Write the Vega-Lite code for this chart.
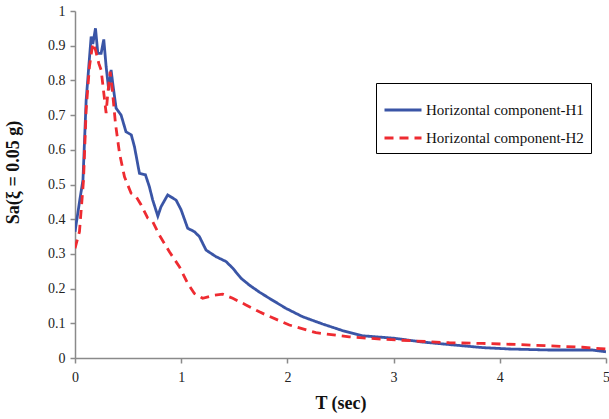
{
  "$schema": "https://vega.github.io/schema/vega-lite/v6.json",
  "width": 531,
  "height": 347,
  "autosize": {"type": "none"},
  "padding": {"left": 75, "top": 11, "right": 3, "bottom": 61},
  "background": "white",
  "config": {
    "view": {"stroke": null},
    "font": "Liberation Serif",
    "axis": {
      "grid": false,
      "labelFlush": false,
      "labelOverlap": false,
      "domainColor": "#8a8a8a",
      "domainWidth": 1.5,
      "tickColor": "#8a8a8a",
      "tickWidth": 1.5,
      "tickSize": 5,
      "labelFont": "Liberation Serif",
      "labelFontSize": 14,
      "labelColor": "#222222",
      "titleFont": "Liberation Serif",
      "titleFontSize": 18,
      "titleFontWeight": "bold",
      "titleColor": "#111111"
    }
  },
  "data": {
    "values": [
      {"series": "Horizontal component-H1", "T": 0, "Sa": 0.364},
      {"series": "Horizontal component-H1", "T": 0.05, "Sa": 0.465},
      {"series": "Horizontal component-H1", "T": 0.075, "Sa": 0.513},
      {"series": "Horizontal component-H1", "T": 0.105, "Sa": 0.743},
      {"series": "Horizontal component-H1", "T": 0.135, "Sa": 0.86},
      {"series": "Horizontal component-H1", "T": 0.152, "Sa": 0.926},
      {"series": "Horizontal component-H1", "T": 0.168, "Sa": 0.905},
      {"series": "Horizontal component-H1", "T": 0.193, "Sa": 0.95},
      {"series": "Horizontal component-H1", "T": 0.215, "Sa": 0.878},
      {"series": "Horizontal component-H1", "T": 0.246, "Sa": 0.878},
      {"series": "Horizontal component-H1", "T": 0.271, "Sa": 0.918},
      {"series": "Horizontal component-H1", "T": 0.293, "Sa": 0.84},
      {"series": "Horizontal component-H1", "T": 0.318, "Sa": 0.772},
      {"series": "Horizontal component-H1", "T": 0.34, "Sa": 0.83},
      {"series": "Horizontal component-H1", "T": 0.356, "Sa": 0.79},
      {"series": "Horizontal component-H1", "T": 0.387, "Sa": 0.72},
      {"series": "Horizontal component-H1", "T": 0.434, "Sa": 0.7},
      {"series": "Horizontal component-H1", "T": 0.48, "Sa": 0.652},
      {"series": "Horizontal component-H1", "T": 0.53, "Sa": 0.643},
      {"series": "Horizontal component-H1", "T": 0.56, "Sa": 0.609},
      {"series": "Horizontal component-H1", "T": 0.607, "Sa": 0.532},
      {"series": "Horizontal component-H1", "T": 0.663, "Sa": 0.528},
      {"series": "Horizontal component-H1", "T": 0.7, "Sa": 0.494},
      {"series": "Horizontal component-H1", "T": 0.732, "Sa": 0.455},
      {"series": "Horizontal component-H1", "T": 0.78, "Sa": 0.409},
      {"series": "Horizontal component-H1", "T": 0.81, "Sa": 0.436},
      {"series": "Horizontal component-H1", "T": 0.873, "Sa": 0.47},
      {"series": "Horizontal component-H1", "T": 0.952, "Sa": 0.455},
      {"series": "Horizontal component-H1", "T": 0.999, "Sa": 0.427},
      {"series": "Horizontal component-H1", "T": 1.061, "Sa": 0.374},
      {"series": "Horizontal component-H1", "T": 1.124, "Sa": 0.364},
      {"series": "Horizontal component-H1", "T": 1.171, "Sa": 0.35},
      {"series": "Horizontal component-H1", "T": 1.234, "Sa": 0.311},
      {"series": "Horizontal component-H1", "T": 1.328, "Sa": 0.292},
      {"series": "Horizontal component-H1", "T": 1.422, "Sa": 0.278},
      {"series": "Horizontal component-H1", "T": 1.485, "Sa": 0.259},
      {"series": "Horizontal component-H1", "T": 1.563, "Sa": 0.23},
      {"series": "Horizontal component-H1", "T": 1.642, "Sa": 0.21},
      {"series": "Horizontal component-H1", "T": 1.736, "Sa": 0.19},
      {"series": "Horizontal component-H1", "T": 1.83, "Sa": 0.172},
      {"series": "Horizontal component-H1", "T": 1.987, "Sa": 0.143},
      {"series": "Horizontal component-H1", "T": 2.143, "Sa": 0.119},
      {"series": "Horizontal component-H1", "T": 2.331, "Sa": 0.098},
      {"series": "Horizontal component-H1", "T": 2.519, "Sa": 0.079},
      {"series": "Horizontal component-H1", "T": 2.707, "Sa": 0.064},
      {"series": "Horizontal component-H1", "T": 3.006, "Sa": 0.057},
      {"series": "Horizontal component-H1", "T": 3.272, "Sa": 0.046},
      {"series": "Horizontal component-H1", "T": 3.586, "Sa": 0.037},
      {"series": "Horizontal component-H1", "T": 3.836, "Sa": 0.03},
      {"series": "Horizontal component-H1", "T": 4.087, "Sa": 0.026},
      {"series": "Horizontal component-H1", "T": 4.464, "Sa": 0.023},
      {"series": "Horizontal component-H1", "T": 4.87, "Sa": 0.023},
      {"series": "Horizontal component-H1", "T": 5.0, "Sa": 0.018},
      {"series": "Horizontal component-H2", "T": 0, "Sa": 0.316},
      {"series": "Horizontal component-H2", "T": 0.042, "Sa": 0.364},
      {"series": "Horizontal component-H2", "T": 0.073, "Sa": 0.484},
      {"series": "Horizontal component-H2", "T": 0.08, "Sa": 0.513},
      {"series": "Horizontal component-H2", "T": 0.105, "Sa": 0.715},
      {"series": "Horizontal component-H2", "T": 0.136, "Sa": 0.84},
      {"series": "Horizontal component-H2", "T": 0.168, "Sa": 0.907},
      {"series": "Horizontal component-H2", "T": 0.193, "Sa": 0.888},
      {"series": "Horizontal component-H2", "T": 0.224, "Sa": 0.849},
      {"series": "Horizontal component-H2", "T": 0.246, "Sa": 0.83},
      {"series": "Horizontal component-H2", "T": 0.268, "Sa": 0.772},
      {"series": "Horizontal component-H2", "T": 0.293, "Sa": 0.706},
      {"series": "Horizontal component-H2", "T": 0.309, "Sa": 0.763},
      {"series": "Horizontal component-H2", "T": 0.331, "Sa": 0.825},
      {"series": "Horizontal component-H2", "T": 0.35, "Sa": 0.777},
      {"series": "Horizontal component-H2", "T": 0.381, "Sa": 0.676},
      {"series": "Horizontal component-H2", "T": 0.419, "Sa": 0.59},
      {"series": "Horizontal component-H2", "T": 0.466, "Sa": 0.522},
      {"series": "Horizontal component-H2", "T": 0.528, "Sa": 0.475},
      {"series": "Horizontal component-H2", "T": 0.576, "Sa": 0.465},
      {"series": "Horizontal component-H2", "T": 0.623, "Sa": 0.441},
      {"series": "Horizontal component-H2", "T": 0.685, "Sa": 0.403},
      {"series": "Horizontal component-H2", "T": 0.732, "Sa": 0.393},
      {"series": "Horizontal component-H2", "T": 0.795, "Sa": 0.354},
      {"series": "Horizontal component-H2", "T": 0.889, "Sa": 0.306},
      {"series": "Horizontal component-H2", "T": 0.983, "Sa": 0.263},
      {"series": "Horizontal component-H2", "T": 1.061, "Sa": 0.215},
      {"series": "Horizontal component-H2", "T": 1.124, "Sa": 0.186},
      {"series": "Horizontal component-H2", "T": 1.202, "Sa": 0.172},
      {"series": "Horizontal component-H2", "T": 1.296, "Sa": 0.18},
      {"series": "Horizontal component-H2", "T": 1.39, "Sa": 0.184},
      {"series": "Horizontal component-H2", "T": 1.485, "Sa": 0.172},
      {"series": "Horizontal component-H2", "T": 1.61, "Sa": 0.153},
      {"series": "Horizontal component-H2", "T": 1.736, "Sa": 0.133},
      {"series": "Horizontal component-H2", "T": 1.8, "Sa": 0.124},
      {"series": "Horizontal component-H2", "T": 2.018, "Sa": 0.095},
      {"series": "Horizontal component-H2", "T": 2.269, "Sa": 0.073},
      {"series": "Horizontal component-H2", "T": 2.582, "Sa": 0.061},
      {"series": "Horizontal component-H2", "T": 2.896, "Sa": 0.054},
      {"series": "Horizontal component-H2", "T": 3.21, "Sa": 0.049},
      {"series": "Horizontal component-H2", "T": 3.523, "Sa": 0.044},
      {"series": "Horizontal component-H2", "T": 3.836, "Sa": 0.042},
      {"series": "Horizontal component-H2", "T": 4.15, "Sa": 0.039},
      {"series": "Horizontal component-H2", "T": 4.464, "Sa": 0.035},
      {"series": "Horizontal component-H2", "T": 4.777, "Sa": 0.031},
      {"series": "Horizontal component-H2", "T": 5.0, "Sa": 0.026}
    ]
  },
  "mark": {"type": "line", "strokeWidth": 2.8, "clip": true},
  "encoding": {
    "x": {
      "field": "T",
      "type": "quantitative",
      "scale": {"domain": [0, 5], "nice": false},
      "axis": {
        "title": "T (sec)",
        "values": [0, 1, 2, 3, 4, 5],
        "format": "~g",
        "labelPadding": 7,
        "titlePadding": 10
      }
    },
    "y": {
      "field": "Sa",
      "type": "quantitative",
      "scale": {"domain": [0, 1], "nice": false},
      "axis": {
        "title": "Sa(ξ = 0.05 g)",
        "values": [0, 0.1, 0.2, 0.3, 0.4, 0.5, 0.6, 0.7, 0.8, 0.9, 1],
        "format": "~g",
        "labelPadding": 5,
        "titlePadding": 25,
        "titleY": 161
      }
    },
    "color": {
      "field": "series",
      "type": "nominal",
      "scale": {
        "domain": ["Horizontal component-H1", "Horizontal component-H2"],
        "range": ["#3A55A6", "#EE2B31"]
      },
      "legend": {
        "title": null,
        "orient": "none",
        "legendX": 301,
        "legendY": 72,
        "strokeColor": "#000000",
        "fillColor": "#ffffff",
        "padding": 7,
        "rowPadding": -6,
        "symbolType": "stroke",
        "symbolSize": 1369,
        "symbolStrokeWidth": 3,
        "labelFont": "Liberation Serif",
        "labelFontSize": 15,
        "labelColor": "#111111",
        "labelOffset": 3
      }
    },
    "strokeDash": {
      "field": "series",
      "type": "nominal",
      "scale": {
        "domain": ["Horizontal component-H1", "Horizontal component-H2"],
        "range": [[1, 0], [9, 6]]
      },
      "legend": {
        "title": null,
        "orient": "none",
        "legendX": 301,
        "legendY": 72,
        "strokeColor": "#000000",
        "fillColor": "#ffffff",
        "padding": 7,
        "rowPadding": -6,
        "symbolType": "stroke",
        "symbolSize": 1369,
        "symbolStrokeWidth": 3,
        "labelFont": "Liberation Serif",
        "labelFontSize": 15,
        "labelColor": "#111111",
        "labelOffset": 3
      }
    }
  }
}
